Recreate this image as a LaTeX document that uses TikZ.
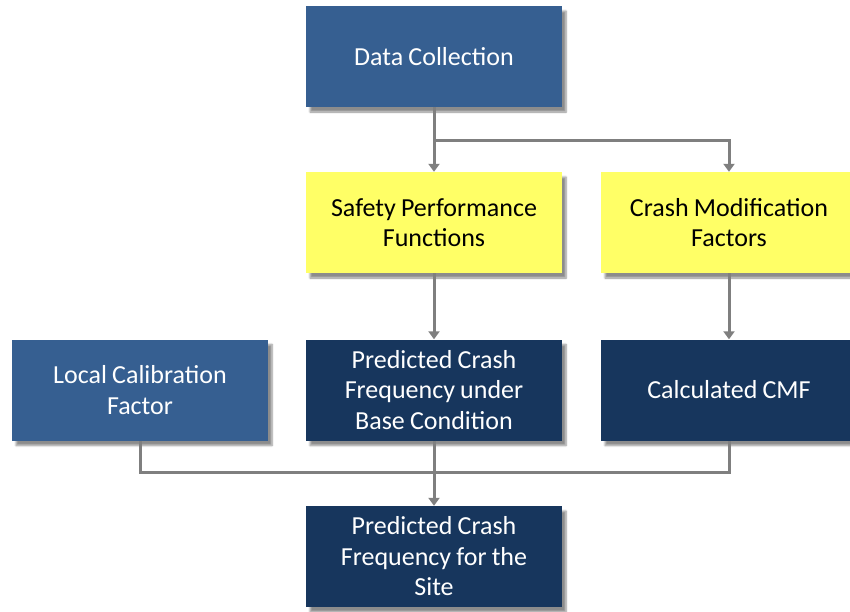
\documentclass[tikz,border=0pt]{standalone}
\usepackage{fontspec}
\setmainfont{Carlito}
\usetikzlibrary{arrows.meta,shadows.blur}

\definecolor{steelbox}{HTML}{365F91}
\definecolor{navybox}{HTML}{17365D}
\definecolor{yellowbox}{HTML}{FFFF66}
\definecolor{linkgray}{HTML}{7F7F7F}

\tikzset{
  box/.style={rectangle, minimum width=256pt, minimum height=101pt,
    text width=250pt, align=center, inner sep=0pt,
    font=\fontsize{26}{30.5}\selectfont,
    execute at begin node={\spaceskip=0.2em\relax},
    blur shadow={shadow xshift=4pt, shadow yshift=-5pt, shadow blur steps=6,
      shadow opacity=45}},
  steelnode/.style={box, fill=steelbox, text=white},
  navynode/.style={box, fill=navybox, text=white},
  yellownode/.style={box, fill=yellowbox, text=black},
  link/.style={draw=linkgray, line width=3pt},
  arrowlink/.style={link, -{Triangle[width=11pt,length=8pt]}},
}

\begin{document}
\begin{tikzpicture}[x=1pt,y=-1pt]
  \useasboundingbox (0,0) rectangle (850,611);

  % boxes
  \node[steelnode]  (data)  at (434,56.5)  {Data Collection};
  \node[yellownode] (spf)   at (434,222.5) {Safety Performance\\Functions};
  \node[yellownode] (cmfs)  at (729,222.5) {Crash Modification\\Factors};
  \node[steelnode]  (local) at (140,390)   {Local Calibration\\Factor};
  \node[navynode]   (base)  at (434,390)   {Predicted Crash\\Frequency under\\Base Condition};
  \node[navynode]   (calc)  at (729,390)   {Calculated CMF};
  \node[navynode]   (site)  at (434,556.5) {Predicted Crash\\Frequency for the\\Site};

  % junction points of the split and the merge
  \coordinate (split) at (434,140);
  \coordinate (merge) at (434,472);

  % connectors
  \draw[arrowlink] (data.south) -- (spf.north);
  \draw[arrowlink] (split) -| (cmfs.north);
  \draw[arrowlink] (spf.south) -- (base.north);
  \draw[arrowlink] (cmfs.south) -- (calc.north);
  \draw[link] (local.south) |- (merge) -| (calc.south);
  \draw[arrowlink] (base.south) -- (site.north);
\end{tikzpicture}
\end{document}
